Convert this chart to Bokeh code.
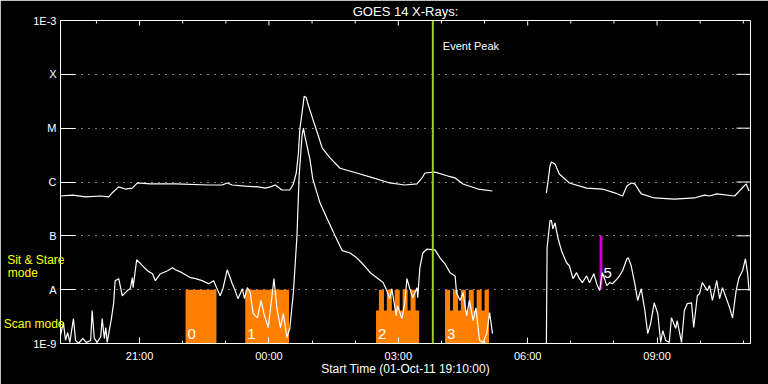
from datetime import datetime, timedelta
import math

from bokeh.plotting import figure
from bokeh.models import FixedTicker, DatetimeTickFormatter, Label, Span, LogAxis
from bokeh.embed import file_html
from bokeh.resources import INLINE
from bokeh.core.properties import value

nan = float("nan")

# ---------------- data ----------------
start_time = datetime(2011, 10, 1, 19, 10)
duration_min = 960
start_label = "Start Time (01-Oct-11 19:10:00)"
title_text = "GOES 14 X-Rays:"

# GOES long channel (1-8 A), minutes after start, flux W/m^2
t_long = [0, 17, 35, 56, 67, 72, 81, 90, 100, 107,
          125, 160, 206, 225, 232, 239, 257, 275, 285, 292,
          299, 308, 319, 324, 328, 331, 333, 336, 339, 342,
          344, 351, 358, 364, 375, 389, 412, 435, 458, 479,
          496, 503, 507, 521, 539, 549, 560, 581, 601, 640,
          676, 678, 681, 683, 688, 694, 708, 732, 754, 771,
          782, 788, 794, 799, 808, 826, 854, 882, 896, 903,
          913, 938, 947, 954, 958]
f_long = [5.5e-7, 5.7e-7, 5.3e-7, 5.5e-7, 5.3e-7, 6.3e-7, 8.1e-7, 7.4e-7, 7.7e-7, 9.6e-7,
          9.2e-7, 9.2e-7, 8.8e-7, 8.8e-7, 9.6e-7, 8.8e-7, 8.4e-7, 8.1e-7, 7.7e-7, 8.1e-7,
          8.8e-7, 7.1e-7, 7.1e-7, 9.2e-7, 1.47e-6, 3.4e-6, 9.6e-6, 1.9e-5, 3.9e-5, 3.7e-5,
          2.9e-5, 1.47e-5, 7.7e-6, 4.3e-6, 2.8e-6, 1.8e-6, 1.47e-6, 1.19e-6, 9.6e-7, 8.8e-7,
          9.2e-7, 1.19e-6, 1.47e-6, 1.53e-6, 1.29e-6, 1.19e-6, 9.2e-7, 7.4e-7, 6.8e-7, nan,
          6.3e-7, 9.6e-7, 1.98e-6, 2.35e-6, 2.15e-6, 1.41e-6, 9.6e-7, 7.7e-7, 7.4e-7, 6.3e-7,
          5.5e-7, 8.4e-7, 9.6e-7, 9.2e-7, 6.0e-7, 5.05e-7, 4.8e-7, 5.05e-7, 5.7e-7, 5.5e-7,
          6.0e-7, 5.5e-7, 7.4e-7, 9.2e-7, 6.8e-7]

# GOES short channel (0.5-4 A)
t_short = [0, 4, 7, 10, 13, 18, 21, 25, 31, 36,
           42, 44, 47, 51, 56, 58, 61, 63, 65, 71,
           74, 76, 81, 86, 93, 97, 100, 101, 106, 114,
           121, 128, 132, 139, 149, 156, 160, 169, 181, 188,
           197, 206, 213, 219, 222, 226, 232, 239, 243, 247,
           253, 256, 260, 264, 268, 274, 279, 283, 289, 293,
           297, 301, 306, 310, 315, 319, 324, 329, 332, 336,
           338, 340, 347, 351, 361, 371, 382, 392, 403, 412,
           419, 431, 442, 449, 454, 458, 461, 467, 469, 475,
           479, 482, 486, 490, 496, 497, 500, 504, 510, 521,
           528, 535, 542, 549, 551, 556, 560, 565, 569, 574,
           578, 583, 588, 593, 597, 601, 640, 676, 677, 681,
           683, 685, 688, 692, 697, 704, 708, 713, 718, 722,
           726, 732, 736, 742, 746, 750, 754, 760, 764, 768,
           776, 782, 788, 790, 794, 799, 803, 808, 813, 817,
           821, 826, 831, 835, 838, 842, 847, 850, 856, 858,
           864, 868, 872, 878, 881, 886, 889, 893, 900, 903,
           907, 913, 917, 921, 926, 931, 935, 940, 944, 949,
           953, 956, 958]
f_short = [1.41e-9, 2.45e-9, 1.14e-9, 1.6e-9, 1.05e-9, 2.9e-9, 1.14e-9, 1.0e-9, 1.24e-9, 1.05e-9,
           1.14e-9, 4.1e-9, 1.24e-9, 1.05e-9, 1.35e-9, 2.9e-9, 1.24e-9, 1.98e-9, 1.05e-9, 3.0e-9,
           5.7e-9, 1.47e-8, 1.6e-8, 7.7e-9, 9.6e-9, 1.04e-8, 1.67e-8, 1.09e-8, 3.6e-8, 2.8e-8,
           2.25e-8, 1.98e-8, 1.47e-8, 1.98e-8, 2.25e-8, 2.55e-8, 2.35e-8, 2.07e-8, 1.67e-8, 1.6e-8,
           1.47e-8, 1.29e-8, 1.47e-8, 9.6e-9, 7.7e-9, 1.04e-8, 2.35e-8, 1.29e-8, 9.6e-9, 6.8e-9,
           1.04e-8, 6.8e-9, 1.09e-8, 8.8e-9, 3.6e-9, 3.0e-9, 6.3e-9, 3.6e-9, 1.98e-9, 5.5e-9,
           1.6e-8, 4.6e-9, 1.98e-9, 3.6e-9, 1.29e-9, 1.9e-9, 8.8e-9, 1.0e-7, 1.29e-6, 7.1e-6,
           1.0e-5, 7.1e-6, 2.67e-6, 1.14e-6, 4.1e-7, 2.07e-7, 1.0e-7, 5.3e-8, 4.8e-8, 3.9e-8,
           3.16e-8, 2.07e-8, 1.6e-8, 1.35e-8, 9.6e-9, 6.8e-9, 1.04e-8, 3.3e-9, 5.05e-9, 2.9e-9,
           5.7e-9, 1.6e-8, 1.04e-8, 7.1e-9, 1.09e-8, 7.1e-9, 2.55e-8, 4.8e-8, 5.7e-8, 5.5e-8,
           3.9e-8, 3.0e-8, 2.07e-8, 1.8e-8, 8.8e-9, 6.3e-9, 8.8e-9, 3.3e-9, 6.3e-9, 2.67e-9,
           4.6e-9, 1.14e-9, 1.05e-9, 1.53e-9, 3.75e-9, 1.53e-9, nan, 1.0e-9, 6.0e-8, 1.9e-7,
           1.94e-7, 1.35e-7, 1.74e-7, 9.2e-8, 5.3e-8, 3.16e-8, 2.78e-8, 1.6e-8, 2.07e-8, 1.6e-8,
           1.35e-8, 1.8e-8, 1.35e-8, 1.98e-8, 1.29e-8, 9.6e-9, 2.07e-8, 1.19e-8, 1.35e-8, 1.29e-8,
           1.67e-8, 2.25e-8, 3.75e-8, 3.9e-8, 2.78e-8, 1.29e-8, 6.3e-9, 1.04e-8, 4.1e-9, 1.53e-9,
           2.35e-9, 5.7e-9, 3.6e-9, 1.05e-9, 1.74e-9, 1.14e-9, 1.05e-9, 3.0e-9, 1.9e-9, 2.67e-9,
           1.05e-9, 4.1e-9, 5.5e-9, 5.7e-9, 1.98e-9, 7.7e-9, 8.4e-9, 1.35e-8, 9.6e-9, 1.19e-8,
           6.3e-9, 1.47e-8, 6.8e-9, 1.09e-8, 7.1e-9, 4.6e-9, 3.0e-9, 9.6e-9, 1.67e-8, 2.25e-8,
           3.75e-8, 1.98e-8, 9.6e-9]

# observing blocks (minutes after start)
obs_start = [174, 257, 439, 535]
obs_end = [217, 318, 499, 596]
obs_top = [1.0e-8, 1.0e-8, 4.1e-9, 4.1e-9]
obs_label = ["0", "1", "2", "3"]
spike_start = [443, 454, 465, 476, 487, 535, 546, 557, 568, 579, 590]
spike_end = [450, 461, 472, 483, 494, 542, 553, 564, 575, 586, 596]
spike_top = 1.0e-8

# sit & stare marker
sas_start, sas_end = 750, 754
sas_bottom, sas_top = 1.0e-8, 1.0e-7
sas_label = "5"

# event peak (minutes after start)
peak_min = 518
peak_label = "Event Peak"

# observing-mode legend on the left (flux level where each text line sits)
mode_texts = ["Sit & Stare", "mode", "Scan mode"]
mode_levels = [3.6e-8, 2.07e-8, 2.3e-9]
mode_pad = [0, 8, 0]   # non-breaking spaces that shift a line left of the others

# axes
flux_levels = [1e-9, 1e-8, 1e-7, 1e-6, 1e-5, 1e-4, 1e-3]
flux_labels = ["1E-9", "A", "B", "C", "M", "X", "1E-3"]
major_hour_labels = ["21:00", "00:00", "03:00", "06:00", "09:00"]

# ---------------- helpers ----------------
EPOCH = datetime(1970, 1, 1)


def to_ms(minutes):
    return ((start_time + timedelta(minutes=minutes)) - EPOCH).total_seconds() * 1000.0


def label_to_minutes(lbl):
    h, m = map(int, lbl.split(":"))
    t = start_time.replace(hour=h, minute=m)
    if t < start_time:
        t += timedelta(days=1)
    return (t - start_time).total_seconds() / 60.0


major_min = [label_to_minutes(l) for l in major_hour_labels]
first_hour = 60 - start_time.minute
minor_min = [m for m in range(first_hour, duration_min + 1, 60)]
major_ms = [to_ms(m) for m in major_min]
minor_ms = [to_ms(m) for m in minor_min if m not in major_min]

FONT = "Liberation Sans"

p = figure(width=768, height=384, x_axis_type="datetime", y_axis_type="log",
           x_range=(to_ms(0), to_ms(duration_min)), y_range=(1e-9, 1e-3),
           output_backend="svg", toolbar_location=None,
           background_fill_color="black", border_fill_color="black",
           outline_line_color="white", outline_line_width=1,
           min_border_left=60, min_border_right=18, min_border_top=19, min_border_bottom=41,
           title=title_text)

p.title.align = "center"
p.title.text_color = "white"
p.title.text_font = FONT
p.title.text_font_size = "13px"
p.title.text_font_style = "normal"
p.title.standoff = 3

p.xgrid.visible = False
p.ygrid.ticker = FixedTicker(ticks=flux_levels)
p.ygrid.grid_line_color = "white"
p.ygrid.grid_line_dash = "1 6"
p.ygrid.grid_line_width = 1

# left axis
yax = p.yaxis[0]
yax.ticker = FixedTicker(ticks=flux_levels)
yax.major_label_overrides = {lvl: lab for lvl, lab in zip(flux_levels, flux_labels)}
yax.major_tick_in = 15
yax.major_tick_out = 0
yax.minor_tick_line_color = None
yax.major_tick_line_color = "white"
yax.axis_line_color = "white"
yax.major_label_text_color = "white"
yax.major_label_text_font = FONT
yax.major_label_text_font_size = "11px"
yax.major_label_standoff = 4

# second left axis carrying the yellow observing-mode texts (pulled in towards the frame)
mode_axis = LogAxis(ticker=FixedTicker(ticks=mode_levels),
                    major_label_overrides={lv: tx + "\u00a0" * n for lv, tx, n
                                           in zip(mode_levels, mode_texts, mode_pad)},
                    axis_line_color=None, major_tick_line_color=None,
                    minor_tick_line_color=None, major_tick_in=0, major_tick_out=0,
                    major_label_standoff=-34, major_label_text_color="#FFFF00",
                    major_label_text_font=FONT, major_label_text_font_size="12px")
p.add_layout(mode_axis, "left")

fmt = DatetimeTickFormatter(hours="%H:%M", hourmin="%H:%M", minutes="%H:%M",
                            minsec="%H:%M", days="%H:%M")

# bottom axis
xax = p.xaxis[0]
xax.ticker = FixedTicker(ticks=major_ms, minor_ticks=minor_ms + major_ms)
xax.formatter = fmt
xax.major_tick_in = 6
xax.major_tick_out = 0
xax.minor_tick_in = 3
xax.minor_tick_out = 0
xax.major_tick_line_color = "white"
xax.minor_tick_line_color = "white"
xax.axis_line_color = "white"
xax.major_label_text_color = "white"
xax.major_label_text_font = FONT
xax.major_label_text_font_size = "11px"
xax.major_label_standoff = 6
xax.axis_label = start_label
xax.axis_label_text_color = "white"
xax.axis_label_text_font = FONT
xax.axis_label_text_font_size = "12px"
xax.axis_label_text_font_style = "normal"
xax.axis_label_standoff = -3

# top and right inward ticks (drawn as short rays from the frame edges)
p.ray(x=major_ms, y=[flux_levels[-1]] * len(major_ms), length=5, angle=-math.pi / 2,
      length_units="screen", line_color="white", line_width=1)
p.ray(x=minor_ms, y=[flux_levels[-1]] * len(minor_ms), length=3, angle=-math.pi / 2,
      length_units="screen", line_color="white", line_width=1)
p.ray(x=[to_ms(duration_min)] * (len(flux_levels) - 2), y=flux_levels[1:-1], length=14,
      angle=math.pi, length_units="screen", line_color="white", line_width=1)

# observing blocks
p.quad(left=[to_ms(s) for s in obs_start], right=[to_ms(e) for e in obs_end],
       bottom=flux_levels[0], top=obs_top, fill_color="#FF8000", line_color=None)
p.quad(left=[to_ms(s) for s in spike_start], right=[to_ms(e) for e in spike_end],
       bottom=flux_levels[0], top=spike_top, fill_color="#FF8000", line_color=None)

# magenta sit & stare marker
p.quad(left=[to_ms(sas_start)], right=[to_ms(sas_end)], bottom=[sas_bottom], top=[sas_top],
       fill_color="#CC00CC", line_color=None)

# curves
p.line([to_ms(t) for t in t_long], f_long, line_color="white", line_width=1.2)
p.line([to_ms(t) for t in t_short], f_short, line_color="white", line_width=1.2)

# block labels (centred a little above the bottom of the frame)
p.text(x=[to_ms(s) for s in obs_start], y=[1.53e-9] * len(obs_start), text=obs_label,
       x_offset=2, text_color="white", text_font=value(FONT),
       text_font_size="15px", text_baseline="middle", text_align="left")
p.text(x=[to_ms(sas_end)], y=[2e-8], text=[sas_label], x_offset=1,
       text_color="white", text_font=value(FONT), text_font_size="15px",
       text_baseline="middle", text_align="left")

# event peak
p.add_layout(Span(location=to_ms(peak_min), dimension="height",
                  line_color="#9ACD32", line_width=2))
p.add_layout(Label(x=to_ms(peak_min), y=3.4e-4, x_offset=10, text=peak_label,
                   text_color="white", text_font=FONT, text_font_size="11px",
                   text_baseline="middle"))

open("out.html", "w").write(file_html(p, INLINE))
